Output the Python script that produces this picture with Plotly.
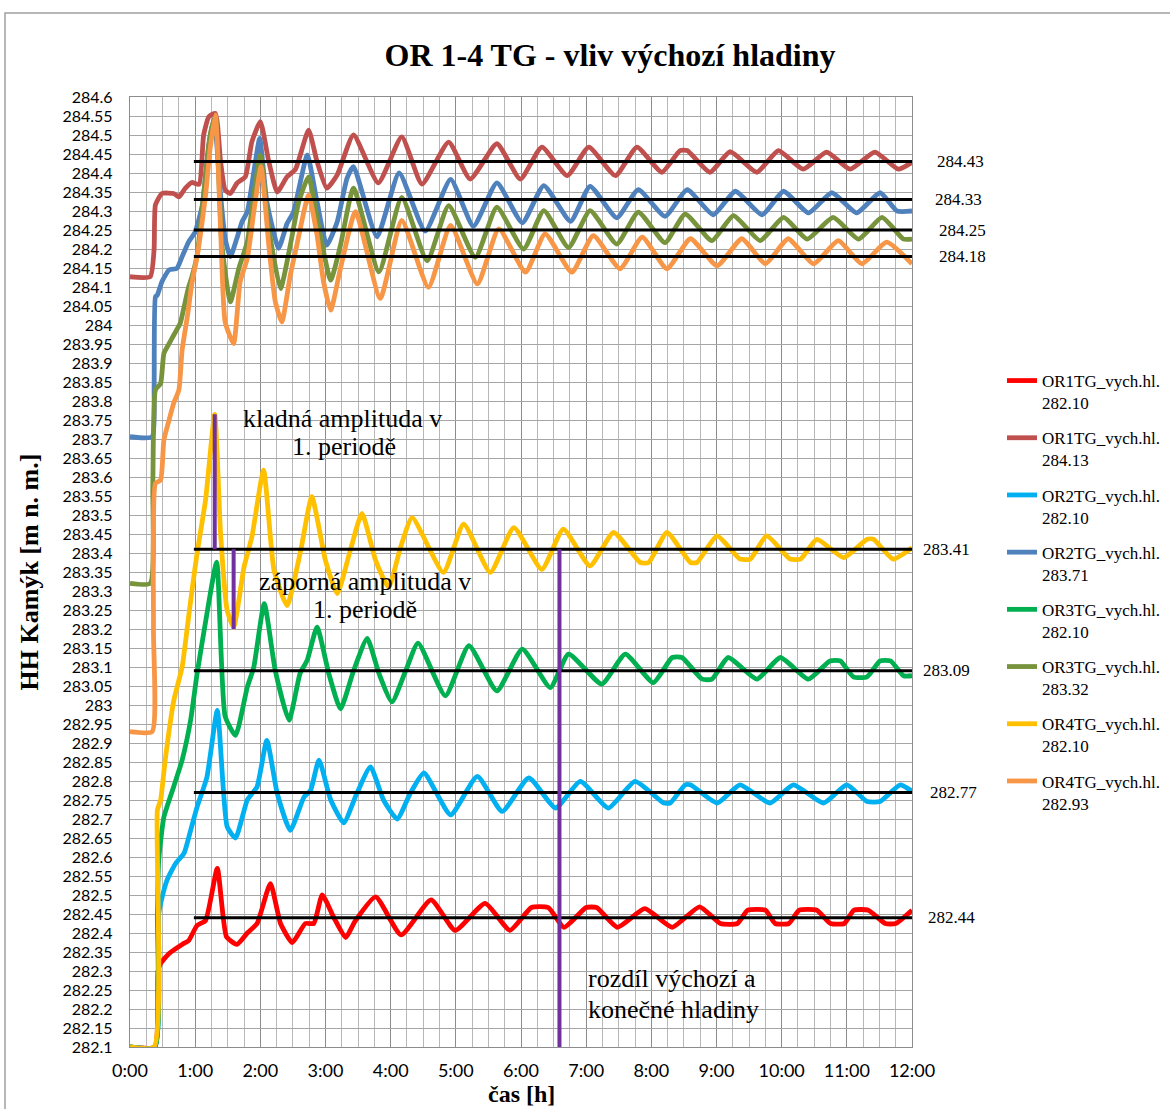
import plotly.graph_objects as go

# ---------------- data (time [h], level [m n. m.]) ----------------
OR1TG_282_10 = [(0,282.10),(0.38,282.10),(0.43,282.30),(0.47,282.32),(0.60,282.346),(0.80,282.37),(0.90,282.38),
    (1.03,282.42),(1.16,282.433),(1.34,282.57),(1.48,282.39),(1.64,282.37),(1.80,282.40),(1.95,282.425),(2.155,282.53),
    (2.31,282.425),(2.49,282.375),(2.69,282.425),(2.82,282.425),(2.95,282.50),(3.13,282.44),(3.31,282.388),(3.45,282.43),
    (3.77,282.495),(4.16,282.395),(4.62,282.487),(4.99,282.407),(5.45,282.478),(5.83,282.407),(6.16,282.467),(6.42,282.467),
    (6.66,282.415),(7.00,282.467),(7.16,282.467),(7.48,282.415),(7.90,282.464),(8.32,282.415),(8.74,282.469),(9.06,282.425),
    (9.32,282.425),(9.48,282.46),(9.75,282.46),(9.90,282.425),(10.11,282.425),(10.27,282.46),(10.54,282.46),(10.75,282.425),
    (10.96,282.425),(11.11,282.46),(11.33,282.46),(11.59,282.425),(11.75,282.425),(12.0,282.46)]

OR1TG_284_13 = [(0,284.127),(0.31,284.127),(0.37,284.20),(0.39,284.316),(0.49,284.346),(0.67,284.346),(0.75,284.337),
    (0.85,284.36),(0.95,284.375),(1.06,284.37),(1.13,284.50),(1.21,284.548),(1.31,284.557),(1.39,284.43),(1.46,284.355),
    (1.54,284.346),(1.64,284.373),(1.77,284.39),(1.87,284.482),(2.00,284.535),(2.13,284.43),(2.26,284.35),(2.41,284.39),
    (2.54,284.41),(2.74,284.513),(2.87,284.43),(3.02,284.36),(3.18,284.395),(3.43,284.50),(3.81,284.374),(4.17,284.495),
    (4.48,284.371),(4.89,284.481),(5.22,284.384),(5.63,284.477),(5.99,284.384),(6.32,284.468),(6.71,284.393),(7.04,284.468),
    (7.45,284.393),(7.78,284.468),(8.16,284.402),(8.44,284.459),(8.55,284.459),(8.90,284.402),(9.21,284.456),(9.62,284.402),
    (9.95,284.459),(10.33,284.41),(10.69,284.455),(11.05,284.41),(11.43,284.455),(11.79,284.41),(12.0,284.428)]

OR2TG_282_10 = [(0,282.10),(0.38,282.10),(0.44,282.45),(0.47,282.478),(0.57,282.54),(0.70,282.583),(0.83,282.61),
    (0.93,282.67),(1.03,282.732),(1.18,282.81),(1.34,282.986),(1.49,282.68),(1.62,282.65),(1.80,282.75),(1.95,282.785),
    (2.10,282.907),(2.26,282.767),(2.46,282.67),(2.67,282.758),(2.77,282.775),(2.90,282.855),(3.08,282.75),(3.28,282.69),
    (3.48,282.767),(3.69,282.837),(3.89,282.75),(4.10,282.70),(4.30,282.767),(4.51,282.821),(4.92,282.711),(5.33,282.812),
    (5.71,282.72),(6.12,282.808),(6.53,282.729),(6.91,282.799),(7.34,282.729),(7.75,282.799),(8.19,282.742),(8.29,282.742),
    (8.52,282.79),(8.60,282.79),(9.01,282.742),(9.36,282.79),(9.82,282.742),(10.18,282.79),(10.64,282.742),(11.0,282.79),
    (11.31,282.746),(11.51,282.746),(11.82,282.79),(12.0,282.773)]

OR2TG_283_71 = [(0,283.706),(0.34,283.706),(0.37,283.837),(0.39,284.074),(0.42,284.079),(0.49,284.114),(0.60,284.145),
    (0.72,284.149),(0.80,284.18),(0.90,284.219),(1.0,284.245),(1.11,284.316),(1.21,284.474),(1.29,284.544),(1.39,284.342),
    (1.46,284.228),(1.54,284.18),(1.64,284.228),(1.72,284.272),(1.80,284.298),(1.90,284.403),(1.99,284.491),(2.10,284.324),
    (2.28,284.202),(2.41,284.267),(2.51,284.298),(2.72,284.447),(2.87,284.324),(3.02,284.21),(3.18,284.272),(3.33,284.386),
    (3.43,284.417),(3.79,284.232),(4.13,284.40),(4.53,284.247),(4.92,284.383),(5.27,284.26),(5.63,284.374),(6.02,284.269),
    (6.35,284.367),(6.76,284.273),(7.06,284.365),(7.47,284.282),(7.80,284.356),(8.21,284.286),(8.55,284.356),(8.95,284.29),
    (9.29,284.352),(9.70,284.29),(10.03,284.352),(10.41,284.295),(10.77,284.348),(11.15,284.295),(11.51,284.348),
    (11.77,284.30),(12.0,284.30)]

OR3TG_282_10 = [(0,282.10),(0.38,282.10),(0.42,282.45),(0.44,282.59),(0.52,282.705),(0.67,282.785),(0.80,282.855),
    (0.93,282.96),(1.03,283.083),(1.18,283.24),(1.33,283.376),(1.46,282.97),(1.62,282.92),(1.80,283.047),(1.90,283.10),
    (2.06,283.267),(2.23,283.09),(2.44,282.96),(2.61,283.083),(2.72,283.118),(2.87,283.205),(3.05,283.083),(3.23,282.99),
    (3.43,283.09),(3.64,283.175),(3.82,283.083),(4.02,283.008),(4.23,283.09),(4.42,283.163),(4.84,283.024),(5.20,283.156),
    (5.63,283.037),(6.02,283.147),(6.45,283.046),(6.73,283.134),(7.24,283.055),(7.60,283.134),(8.03,283.059),(8.32,283.125),
    (8.47,283.125),(8.78,283.068),(8.93,283.068),(9.18,283.125),(9.62,283.068),(9.98,283.125),(10.41,283.068),(10.74,283.116),
    (10.90,283.116),(11.10,283.074),(11.31,283.074),(11.51,283.116),(11.67,283.116),(11.87,283.077),(12.0,283.077)]

OR3TG_283_32 = [(0,283.32),(0.31,283.32),(0.35,283.58),(0.39,283.829),(0.47,283.846),(0.52,283.925),(0.60,283.951),
    (0.67,283.973),(0.77,284.004),(0.83,284.048),(0.90,284.10),(0.95,284.127),(1.03,284.184),(1.13,284.342),(1.23,284.50),
    (1.31,284.548),(1.41,284.21),(1.54,284.061),(1.67,284.149),(1.80,284.219),(1.90,284.342),(2.00,284.447),(2.13,284.254),
    (2.31,284.096),(2.46,284.21),(2.59,284.324),(2.74,284.39),(2.90,284.254),(3.08,284.118),(3.23,284.21),(3.43,284.36),
    (3.82,284.14),(4.17,284.336),(4.56,284.169),(4.89,284.314),(5.30,284.178),(5.63,284.31),(6.04,284.20),(6.35,284.301),
    (6.73,284.204),(7.06,284.301),(7.47,284.213),(7.80,284.297),(8.21,284.217),(8.52,284.292),(8.93,284.222),(9.26,284.288),
    (9.67,284.222),(10.03,284.283),(10.39,284.226),(10.79,284.283),(11.18,284.226),(11.54,284.283),(11.87,284.226),
    (12.0,284.226)]

OR4TG_282_10 = [(0,282.10),(0.37,282.10),(0.42,282.723),(0.47,282.75),(0.54,282.855),(0.67,283.01),(0.80,283.10),
    (0.88,283.205),(0.95,283.30),(1.03,283.40),(1.16,283.54),(1.30,283.765),(1.39,283.45),(1.49,283.25),(1.59,283.205),
    (1.75,283.363),(1.87,283.442),(2.05,283.618),(2.21,283.355),(2.41,283.262),(2.62,283.407),(2.79,283.548),(3.0,283.38),
    (3.18,283.293),(3.38,283.407),(3.56,283.504),(3.77,283.38),(3.97,283.31),(4.15,283.414),(4.33,283.493),(4.81,283.349),
    (5.12,283.476),(5.53,283.349),(5.89,283.467),(6.32,283.357),(6.65,283.463),(7.06,283.366),(7.42,283.454),(7.83,283.375),
    (7.96,283.375),(8.24,283.454),(8.60,283.375),(8.70,283.375),(9.01,283.445),(9.36,283.384),(9.52,283.384),(9.77,283.445),
    (10.13,283.384),(10.29,283.384),(10.54,283.436),(10.95,283.388),(11.31,283.436),(11.41,283.436),(11.71,283.384),
    (12.0,283.414)]

OR4TG_282_93 = [(0,282.93),(0.34,282.93),(0.36,283.20),(0.39,283.583),(0.47,283.592),(0.52,283.697),(0.60,283.75),
    (0.67,283.794),(0.75,283.829),(0.80,283.934),(0.88,284.022),(0.95,284.11),(1.03,284.18),(1.08,284.237),(1.16,284.342),
    (1.23,284.465),(1.31,284.553),(1.39,284.254),(1.46,284.008),(1.59,283.951),(1.69,284.114),(1.80,284.175),(1.90,284.298),
    (2.01,284.417),(2.13,284.21),(2.23,284.061),(2.33,284.008),(2.46,284.131),(2.56,284.21),(2.74,284.342),(2.87,284.237),
    (2.97,284.114),(3.08,284.039),(3.23,284.149),(3.46,284.298),(3.84,284.07),(4.17,284.275),(4.58,284.099),(4.92,284.262),
    (5.33,284.108),(5.66,284.253),(6.07,284.139),(6.37,284.24),(6.78,284.139),(7.11,284.235),(7.52,284.148),(7.86,284.231),
    (8.24,284.148),(8.60,284.227),(9.01,284.156),(9.39,284.227),(9.75,284.161),(10.10,284.227),(10.49,284.161),
    (10.87,284.222),(11.23,284.161),(11.61,284.218),(12.0,284.161)]

SERIES_NAMES = ["OR1TG_vych.hl.<br>282.10", "OR1TG_vych.hl.<br>284.13", "OR2TG_vych.hl.<br>282.10",
                "OR2TG_vych.hl.<br>283.71", "OR3TG_vych.hl.<br>282.10", "OR3TG_vych.hl.<br>283.32",
                "OR4TG_vych.hl.<br>282.10", "OR4TG_vych.hl.<br>282.93"]
SERIES_DATA = [OR1TG_282_10, OR1TG_284_13, OR2TG_282_10, OR2TG_283_71,
               OR3TG_282_10, OR3TG_283_32, OR4TG_282_10, OR4TG_282_93]

# final (settled) levels
FINAL_LEVELS = [284.43, 284.33, 284.25, 284.18, 283.41, 283.09, 282.77, 282.44]
LEVEL_START_T = 0.98
LEVEL_END_T = 12.0

# purple amplitude markers: (time, from, to)
AMPLITUDE_MARKS = [(1.30, 283.41, 283.765), (1.59, 283.41, 283.20), (6.59, 283.41, 282.10)]

# in-plot notes: (text line, time, level, anchor)
NOTES = [("kladná amplituda v", 3.26, 283.755, "center"), ("1. periodě", 3.28, 283.679, "center"),
         ("záporná amplituda v", 3.61, 283.326, "center"), ("1. periodě", 3.61, 283.252, "center"),
         ("rozdíl výchozí a", 6.99, 282.279, "left"), ("konečné hladiny", 6.99, 282.200, "left")]

X_TICKS = list(range(0, 13))
X_TICK_TEXT = ["0:00", "1:00", "2:00", "3:00", "4:00", "5:00", "6:00", "7:00", "8:00", "9:00", "10:00", "11:00", "12:00"]
Y_TICKS = [round(282.10 + 0.05 * i, 2) for i in range(51)]
Y_TICK_TEXT = [("%.2f" % v).rstrip("0").rstrip(".") for v in Y_TICKS]

X_TITLE = "čas [h]"
Y_TITLE = "HH Kamýk [m n. m.]"
TITLE = "OR 1-4 TG - vliv výchozí hladiny"

# ---------------- styling ----------------
COLORS = ["#FF0000", "#C0504D", "#00B0F0", "#4F81BD", "#00B050", "#77933C", "#FFC000", "#F79646"]
SERIF = "Liberation Serif, Times New Roman, serif"
SANS = "Lato, Carlito, Calibri, sans-serif"
LABEL_PX = [961, 958, 962, 962, 946, 946, 954, 951]   # x pixel centres of level labels

W, H = 1170, 1109
ML, MR, MT, MB = 130, 258, 97, 62
PW = W - ML - MR
PH = H - MT - MB

fig = go.Figure()

for name, data, col in zip(SERIES_NAMES, SERIES_DATA, COLORS):
    fig.add_trace(go.Scatter(
        x=[p[0] for p in data], y=[p[1] for p in data], name=name, mode="lines",
        line=dict(color=col, width=4.8, shape="spline", smoothing=0.5),
        legendgroup=name))

for lv in FINAL_LEVELS:
    fig.add_trace(go.Scatter(x=[LEVEL_START_T, LEVEL_END_T], y=[lv, lv], mode="lines",
                             line=dict(color="black", width=3), showlegend=False, hoverinfo="skip"))

for t, a, b in AMPLITUDE_MARKS:
    fig.add_trace(go.Scatter(x=[t, t], y=[a, b], mode="lines",
                             line=dict(color="#7030A0", width=4), showlegend=False, hoverinfo="skip"))

annotations = []
for lv, px in zip(FINAL_LEVELS, LABEL_PX):
    annotations.append(dict(x=(px - ML) / PW, xref="paper", y=lv, yref="y", text="%.2f" % lv,
                            showarrow=False, xanchor="center", yanchor="middle",
                            font=dict(family=SERIF, size=17, color="black")))

for txt, t, v, anc in NOTES:
    annotations.append(dict(x=t, y=v, xref="x", yref="y", text=txt, showarrow=False,
                            xanchor=anc, yanchor="middle",
                            font=dict(family=SERIF, size=26, color="black")))

# x-axis title placed as an annotation under the tick labels
annotations.append(dict(x=0.5, xref="paper", y=-(1094 - (MT + PH)) / PH, yref="paper", text=X_TITLE,
                        showarrow=False, xanchor="center", yanchor="middle",
                        font=dict(family=SERIF, size=24, color="black", weight="bold")))

fig.update_layout(
    width=W, height=H,
    margin=dict(l=ML, r=MR, t=MT, b=MB, autoexpand=False),
    paper_bgcolor="white", plot_bgcolor="white",
    title=dict(text=TITLE, x=610 / W, xanchor="center",
               y=1 - 55 / H, yanchor="middle", yref="container",
               font=dict(family=SERIF, size=32, color="black", weight="bold")),
    xaxis=dict(range=[0, 12], tickvals=X_TICKS, ticktext=X_TICK_TEXT,
               showgrid=True, gridcolor="#8C8C8C", gridwidth=1.3,
               minor=dict(dtick=0.25, showgrid=True, gridcolor="#B8B8B8", gridwidth=1.3),
               showline=True, linecolor="#8C8C8C", linewidth=1.3, mirror=True,
               ticks="", zeroline=False, ticklabelstandoff=7,
               tickfont=dict(family=SANS, size=18, color="black")),
    yaxis=dict(range=[282.1, 284.6], tickvals=Y_TICKS, ticktext=Y_TICK_TEXT,
               showgrid=True, gridcolor="#A6A6A6", gridwidth=1.3,
               showline=True, linecolor="#8C8C8C", linewidth=1.3, mirror=True,
               ticks="", zeroline=False, ticklabelstandoff=13,
               tickfont=dict(family=SANS, size=16, color="black"),
               title=dict(text=Y_TITLE, standoff=16,
                          font=dict(family=SERIF, size=26, color="black", weight="bold"))),
    legend=dict(x=(1002 - ML) / PW, y=(MT + PH - 363) / PH, xanchor="left", yanchor="top",
                font=dict(family=SERIF, size=17, color="black"), valign="top",
                tracegroupgap=10, bgcolor="rgba(0,0,0,0)", itemwidth=30),
    annotations=annotations,
    shapes=[dict(type="rect", xref="paper", yref="paper",
                 x0=(5 - ML) / PW, x1=(W + 20 - ML) / PW, y0=-(MB + 20) / PH, y1=(MT + PH - 13) / PH,
                 line=dict(color="#A0A0A0", width=1.5), fillcolor="rgba(0,0,0,0)", layer="below")],
    showlegend=True,
)

fig.write_html("out.html")
